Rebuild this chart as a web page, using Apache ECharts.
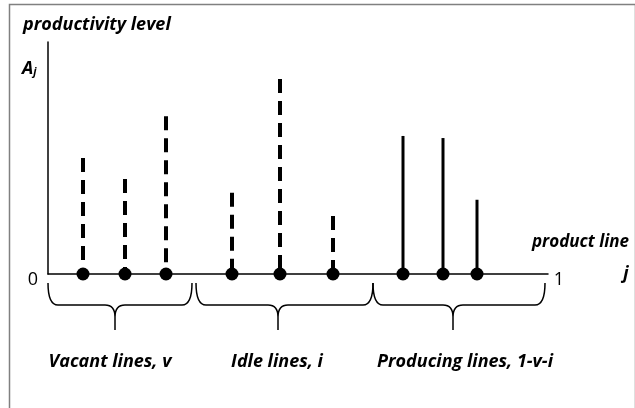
<!DOCTYPE html>
<html>
<head>
<meta charset="utf-8">
<script src="https://cdn.jsdelivr.net/npm/echarts@6/dist/echarts.min.js"></script>
<style>
html,body{margin:0;padding:0;background:#fff;}
#chart{width:635px;height:408px;}
</style>
</head>
<body>
<div id="chart"></div>
<script>
// Product-line positions j (0..1) and productivity levels A_j
const vacantX = [0.07, 0.154, 0.236];
const vacantA = [0.50, 0.41, 0.68];
const idleX = [0.368, 0.464, 0.57];
const idleA = [0.35, 0.84, 0.25];
const producingX = [0.71, 0.79, 0.858];
const producingA = [0.595, 0.586, 0.32];

// Brace groups: [start, end, tip] on the j axis, and their labels
const braceStart = [0.0, 0.296, 0.65];
const braceEnd = [0.288, 0.65, 0.994];
const braceTip = [0.134, 0.46, 0.81];
const braceLabelPos = [0.124, 0.458, 0.834];
const braceLabels = ['Vacant lines, v', 'Idle lines, i', 'Producing lines, 1-v-i'];

const FONT = '"Open Sans", "Noto Sans", sans-serif';

function zipPairs(xs, ys) { return xs.map((x, i) => [x, ys[i]]); }

function stemRenderer(dashed) {
  return function (params, api) {
    const base = api.coord([api.value(0), 0]);
    const top = api.coord([api.value(0), api.value(1)]);
    return {
      type: 'group',
      children: [
        {
          type: 'line',
          shape: { x1: top[0], y1: top[1], x2: base[0], y2: base[1] },
          style: dashed
            ? { stroke: '#000', lineWidth: 4, lineDash: [14, 8], lineCap: 'butt' }
            : { stroke: '#000', lineWidth: 3 }
        },
        {
          type: 'circle',
          shape: { cx: base[0], cy: base[1], r: 6.5 },
          style: { fill: '#000' }
        }
      ]
    };
  };
}

function braceRenderer(params, api) {
  const y0 = api.coord([0, 0])[1];
  const x0 = api.coord([api.value(0), 0])[0];
  const x1 = api.coord([api.value(1), 0])[0];
  const xm = api.coord([api.value(2), 0])[0];
  const xl = api.coord([api.value(3), 0])[0];
  const top = y0 + 9, mid = y0 + 31, tip = y0 + 56;
  const r = 10;
  const d = 'M' + x0 + ',' + top +
    ' Q' + x0 + ',' + mid + ' ' + (x0 + r) + ',' + mid +
    ' L' + (xm - r) + ',' + mid +
    ' Q' + xm + ',' + mid + ' ' + xm + ',' + (mid + 12) +
    ' L' + xm + ',' + tip +
    ' M' + xm + ',' + (mid + 12) +
    ' Q' + xm + ',' + mid + ' ' + (xm + r) + ',' + mid +
    ' L' + (x1 - r) + ',' + mid +
    ' Q' + x1 + ',' + mid + ' ' + x1 + ',' + top;
  return {
    type: 'group',
    children: [
      { type: 'path', shape: { pathData: d }, style: { stroke: '#000', lineWidth: 1.5, fill: null } },
      {
        type: 'text',
        style: {
          text: braceLabels[params.dataIndex],
          x: xl, y: y0 + 88,
          textAlign: 'center', textVerticalAlign: 'middle',
          font: 'italic bold 18px ' + FONT, fill: '#000'
        }
      }
    ]
  };
}

const braceData = braceStart.map((s, i) => [s, braceEnd[i], braceTip[i], braceLabelPos[i]]);

const chart = echarts.init(document.getElementById('chart'), null, { renderer: 'canvas' });
chart.setOption({
  animation: false,
  backgroundColor: '#fff',
  grid: { left: 48, right: 87, top: 42, bottom: 134 },
  xAxis: {
    type: 'value', min: 0, max: 1,
    axisLine: { show: true, onZero: false, lineStyle: { color: '#000', width: 1.5 } },
    axisTick: { show: false }, axisLabel: { show: false }, splitLine: { show: false }
  },
  yAxis: {
    type: 'value', min: 0, max: 1,
    axisLine: { show: true, lineStyle: { color: '#000', width: 1.5 } },
    axisTick: { show: false }, axisLabel: { show: false }, splitLine: { show: false }
  },
  series: [
    { name: 'Vacant', type: 'custom', clip: false, renderItem: stemRenderer(true), data: zipPairs(vacantX, vacantA), z: 3 },
    { name: 'Idle', type: 'custom', clip: false, renderItem: stemRenderer(true), data: zipPairs(idleX, idleA), z: 3 },
    { name: 'Producing', type: 'custom', clip: false, renderItem: stemRenderer(false), data: zipPairs(producingX, producingA), z: 3 },
    { name: 'Braces', type: 'custom', clip: false, renderItem: braceRenderer, data: braceData, z: 2 }
  ],
  graphic: [
    { type: 'rect', left: 7, top: 2, shape: { width: 626, height: 430 }, style: { fill: null, stroke: '#808080', lineWidth: 1.5 }, silent: true },
    { type: 'text', x: 23, y: 25, style: { text: 'productivity level', textVerticalAlign: 'middle', font: 'italic bold 18px ' + FONT, fill: '#000' } },
    { type: 'text', x: 22, y: 69, style: {
        text: '{a|A}{s|j}', textVerticalAlign: 'middle',
        rich: { a: { font: 'italic bold 18px ' + FONT, fill: '#000' }, s: { font: 'italic bold 11px ' + FONT, fill: '#000', padding: [6, 0, 0, 0] } }
    } },
    { type: 'text', x: 33, y: 280, style: { text: '0', textAlign: 'center', textVerticalAlign: 'middle', font: '18px ' + FONT, fill: '#000' } },
    { type: 'text', x: 559, y: 280, style: { text: '1', textAlign: 'center', textVerticalAlign: 'middle', font: '18px ' + FONT, fill: '#000' } },
    { type: 'text', x: 629, y: 242, style: { text: 'product line', textAlign: 'right', textVerticalAlign: 'middle', font: 'italic bold 17px ' + FONT, fill: '#000' } },
    { type: 'text', x: 626, y: 274, style: { text: 'j', textAlign: 'center', textVerticalAlign: 'middle', font: 'italic bold 18px ' + FONT, fill: '#000' } }
  ]
});
</script>
</body>
</html>
